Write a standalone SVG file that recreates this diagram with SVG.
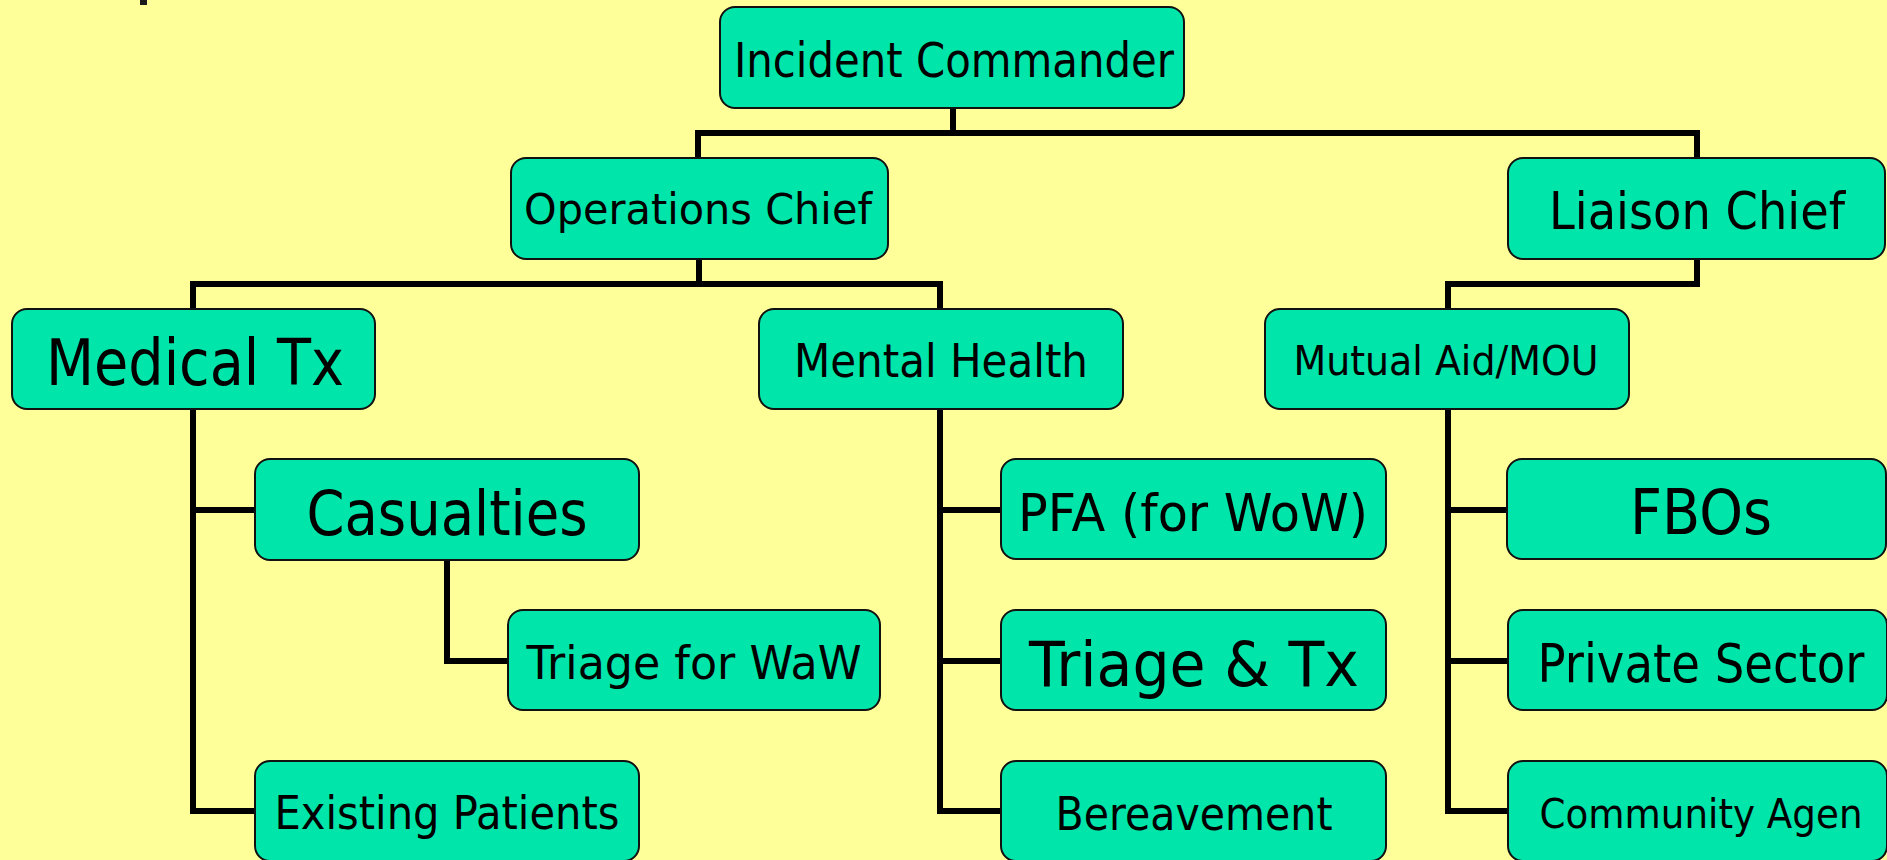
<svg xmlns="http://www.w3.org/2000/svg" width="1887" height="860" viewBox="0 0 1887 860">
  <style>
    .box { fill: #00E5AA; stroke: #111; stroke-width: 2; }
    .lbl { font-family: "DejaVu Sans", Verdana, sans-serif; fill: #000; text-anchor: middle; }
    .wire { fill: none; stroke: #000; stroke-width: 6; stroke-linejoin: miter; stroke-linecap: square; }
  </style>
  <rect x="0" y="0" width="1887" height="860" fill="#FFFF99"/>
  <!-- clipped tail of the slide title -->
  <rect x="140" y="0" width="7" height="5" fill="#1a1a1a"/>

  <g id="connectors">
    <path class="wire" d="M953,108 V133"/>
    <path class="wire" d="M698,158 V133 H1697 V158"/>
    <path class="wire" d="M699,259 V284"/>
    <path class="wire" d="M193,309 V284 H940 V309"/>
    <path class="wire" d="M1697,259 V284 H1448 V309"/>
    <path class="wire" d="M193,409 V811 H255"/>
    <path class="wire" d="M193,510 H255"/>
    <path class="wire" d="M447,559 V661 H508"/>
    <path class="wire" d="M940,409 V811 H1001"/>
    <path class="wire" d="M940,510 H1001"/>
    <path class="wire" d="M940,661 H1001"/>
    <path class="wire" d="M1448,409 V811 H1508"/>
    <path class="wire" d="M1448,510 H1508"/>
    <path class="wire" d="M1448,661 H1508"/>
  </g>

  <g id="incident-commander">
    <rect class="box" x="720" y="7" width="464" height="101" rx="15"/>
    <text class="lbl" x="954" y="77" font-size="48" textLength="440" lengthAdjust="spacingAndGlyphs">Incident Commander</text>
  </g>
  <g id="operations-chief">
    <rect class="box" x="511" y="158" width="377" height="101" rx="15"/>
    <text class="lbl" x="698" y="224" font-size="43" textLength="348" lengthAdjust="spacingAndGlyphs">Operations Chief</text>
  </g>
  <g id="liaison-chief">
    <rect class="box" x="1508" y="158" width="377" height="101" rx="15"/>
    <text class="lbl" x="1697" y="229" font-size="51" textLength="296" lengthAdjust="spacingAndGlyphs">Liaison Chief</text>
  </g>
  <g id="medical-tx">
    <rect class="box" x="12" y="309" width="363" height="100" rx="15"/>
    <text class="lbl" x="195" y="385" font-size="64" textLength="298" lengthAdjust="spacingAndGlyphs">Medical Tx</text>
  </g>
  <g id="mental-health">
    <rect class="box" x="759" y="309" width="364" height="100" rx="15"/>
    <text class="lbl" x="941" y="377" font-size="47" textLength="294" lengthAdjust="spacingAndGlyphs">Mental Health</text>
  </g>
  <g id="mutual-aid">
    <rect class="box" x="1265" y="309" width="364" height="100" rx="15"/>
    <text class="lbl" x="1446" y="375" font-size="41" textLength="305" lengthAdjust="spacingAndGlyphs">Mutual Aid/MOU</text>
  </g>
  <g id="casualties">
    <rect class="box" x="255" y="459" width="384" height="101" rx="15"/>
    <text class="lbl" x="447" y="535" font-size="63" textLength="281" lengthAdjust="spacingAndGlyphs">Casualties</text>
  </g>
  <g id="pfa">
    <rect class="box" x="1001" y="459" width="385" height="100" rx="15"/>
    <text class="lbl" x="1193" y="531" font-size="52" textLength="350" lengthAdjust="spacingAndGlyphs">PFA (for WoW)</text>
  </g>
  <g id="fbos">
    <rect class="box" x="1507" y="459" width="379" height="100" rx="15"/>
    <text class="lbl" x="1701" y="534" font-size="62" textLength="142" lengthAdjust="spacingAndGlyphs">FBOs</text>
  </g>
  <g id="triage-waw">
    <rect class="box" x="508" y="610" width="372" height="100" rx="15"/>
    <text class="lbl" x="694" y="679" font-size="47" textLength="335" lengthAdjust="spacingAndGlyphs">Triage for WaW</text>
  </g>
  <g id="triage-tx">
    <rect class="box" x="1001" y="610" width="385" height="100" rx="15"/>
    <text class="lbl" x="1194" y="686" font-size="63" textLength="330" lengthAdjust="spacingAndGlyphs">Triage &amp; Tx</text>
  </g>
  <g id="private-sector">
    <rect class="box" x="1508" y="610" width="379" height="100" rx="15"/>
    <text class="lbl" x="1701" y="682" font-size="53" textLength="327" lengthAdjust="spacingAndGlyphs">Private Sector</text>
  </g>
  <g id="existing-patients">
    <rect class="box" x="255" y="761" width="384" height="100" rx="15"/>
    <text class="lbl" x="447" y="829" font-size="47" textLength="345" lengthAdjust="spacingAndGlyphs">Existing Patients</text>
  </g>
  <g id="bereavement">
    <rect class="box" x="1001" y="761" width="385" height="100" rx="15"/>
    <text class="lbl" x="1194" y="830" font-size="47" textLength="277" lengthAdjust="spacingAndGlyphs">Bereavement</text>
  </g>
  <g id="community-agen">
    <rect class="box" x="1508" y="761" width="379" height="100" rx="15"/>
    <text class="lbl" x="1701" y="828" font-size="41" textLength="323" lengthAdjust="spacingAndGlyphs">Community Agen</text>
  </g>
</svg>
